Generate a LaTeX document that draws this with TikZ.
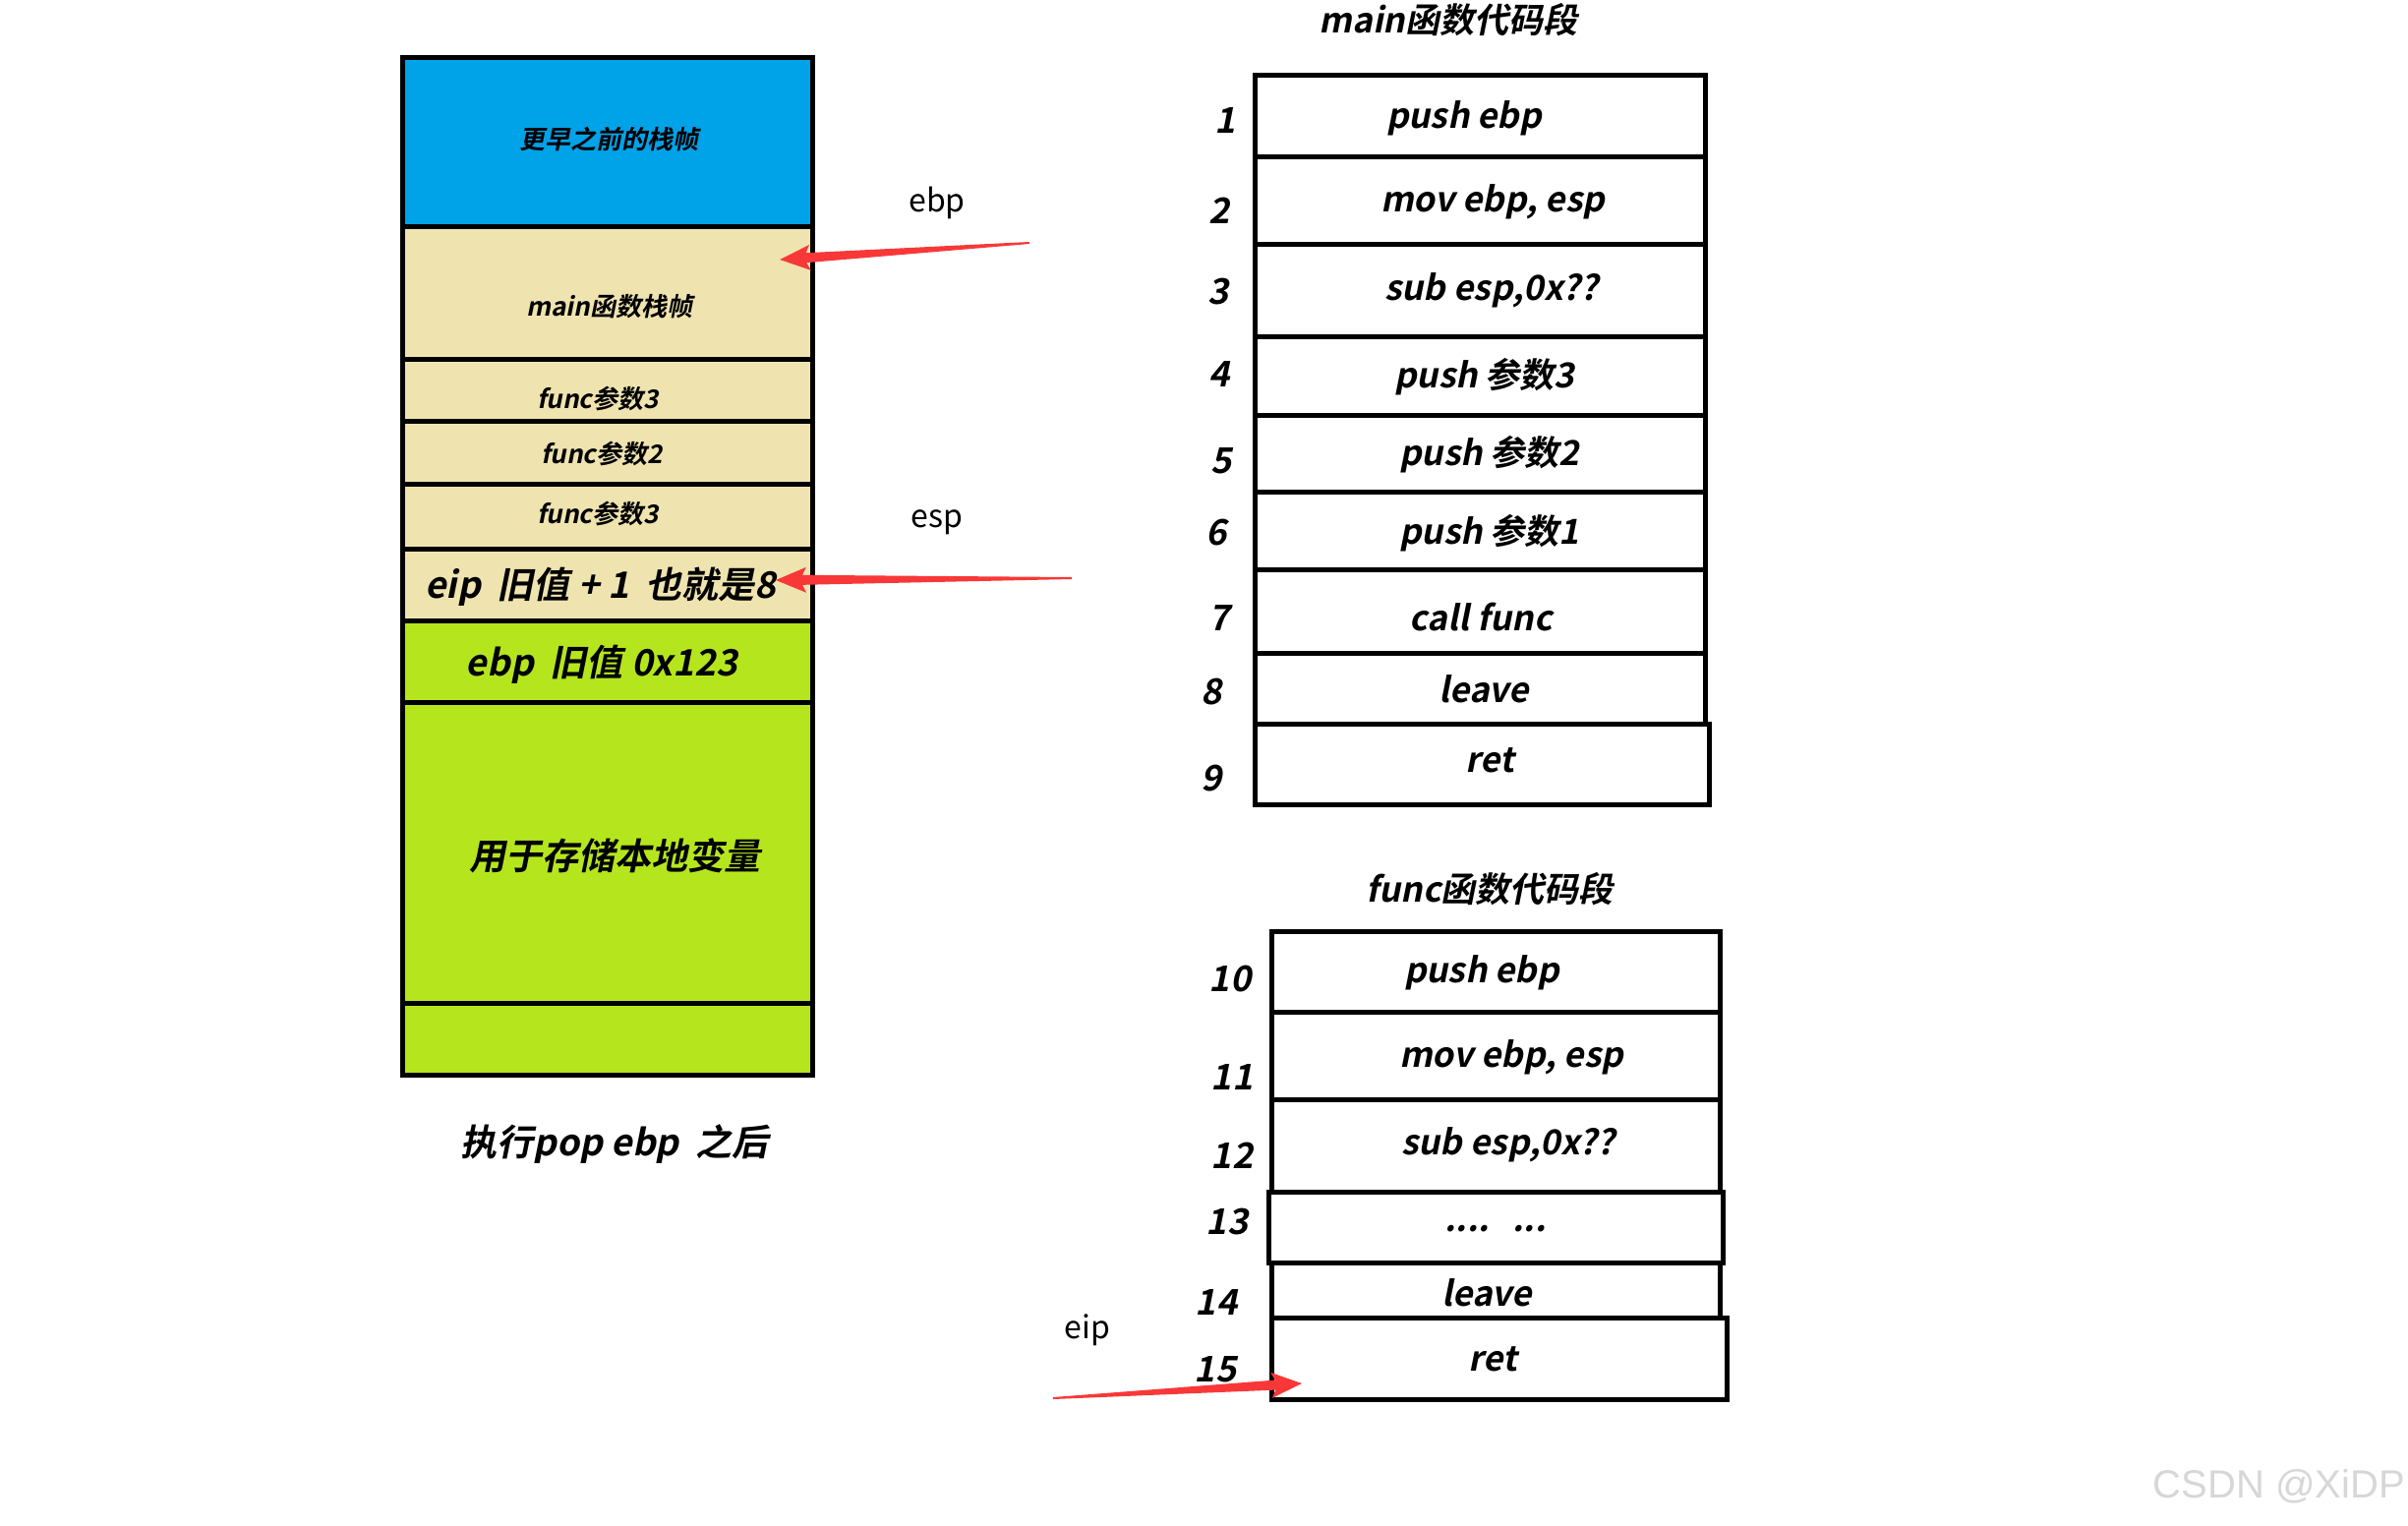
\documentclass[tikz,border=0pt]{standalone}
\usepackage{fontspec}
\usetikzlibrary{calc}
\newfontfamily\cjkbi{Noto Sans CJK SC Bold}[FakeSlant=0.2]
\newfontfamily\cjkrg{Noto Sans CJK SC}
\newfontfamily\wmfont{Liberation Sans}
\definecolor{frameblue}{RGB}{0,162,232}
\definecolor{framebeige}{RGB}{239,228,176}
\definecolor{framegreen}{RGB}{181,230,29}
\definecolor{arrowred}{RGB}{248,56,56}
\definecolor{wmgray}{RGB}{215,215,215}
\newcommand\redarrow[3]{%
  \coordinate (#3h) at ($(#2)!27pt!(#1)$);
  \coordinate (#3b) at ($(#2)!31pt!(#1)$);
  \fill[arrowred] ($(#1)!1pt!90:(#2)$) -- ($(#3h)!5pt!90:(#2)$) -- ($(#3b)!13pt!90:(#2)$) -- (#2)
     -- ($(#3b)!13pt!-90:(#2)$) -- ($(#3h)!5pt!-90:(#2)$) -- ($(#1)!1pt!-90:(#2)$) -- cycle;}
\begin{document}
\begin{tikzpicture}[x=1pt,y=-1pt,
  cell/.style={draw=black, line width=5pt, inner sep=0pt, outer sep=0pt, minimum width=417},
  codebox/.style={draw=black, line width=5pt, fill=white, inner sep=0pt, outer sep=0pt},
  smalltext/.style={font=\cjkbi\fontsize{26}{30}\selectfont, inner sep=0pt},
  bigtext/.style={font=\cjkbi\fontsize{37}{42}\selectfont, inner sep=0pt},
  codetext/.style={font=\cjkbi\fontsize{35}{40}\selectfont, inner sep=0pt},
  numtext/.style={font=\cjkbi\fontsize{36}{40}\selectfont, inner sep=0pt},
  regtext/.style={font=\cjkrg\fontsize{32}{36}\selectfont, inner sep=0pt},
]
\fill[white] (0,0) rectangle (2449,1552);
\useasboundingbox (0,0) rectangle (2449,1552);

% ---- left stack ----
\node[cell, fill=frameblue,  minimum height=171] (s1) at (617.5,144.5) {};
\node[cell, fill=framebeige, minimum height=135] (s2) at (617.5,297.5) {};
\node[cell, fill=framebeige, minimum height=63]  (s3) at (617.5,396.5) {};
\node[cell, fill=framebeige, minimum height=64]  (s4) at (617.5,460) {};
\node[cell, fill=framebeige, minimum height=66]  (s5) at (617.5,525) {};
\node[cell, fill=framebeige, minimum height=73]  (s6) at (617.5,594.5) {};
\node[cell, fill=framegreen, minimum height=83]  (s7) at (617.5,672.5) {};
\node[cell, fill=framegreen, minimum height=306] (s8) at (617.5,867) {};
\node[cell, fill=framegreen, minimum height=73]  (s9) at (617.5,1056.5) {};

\node[smalltext] (t1) at (619,141) {更早之前的栈帧};
\node[smalltext] (t2) at (620,312) {main函数栈帧};
\node[smalltext] (t3) at (608,406) {func参数3};
\node[smalltext] (t4) at (612,462) {func参数2};
\node[smalltext] (t5) at (608,523) {func参数3};
\node[bigtext] (t6) at (611,597) {eip\ \ 旧值 + 1\ \ 也就是8};
\node[bigtext] (t7) at (612,676) {ebp\ \ 旧值 0x123};
\node[bigtext] (t8) at (625,870) {用于存储本地变量};
\node[bigtext] (cap) at (625,1164) {执行pop ebp\ \ 之后};

% ---- main code segment ----
\node[codetext] (mtitle) at (1473,20) {main函数代码段};
\node[codebox, minimum width=458, minimum height=82] (m1) at (1505,118) {};
\node[codebox, minimum width=458, minimum height=89] (m2) at (1505,203.5) {};
\node[codebox, minimum width=458, minimum height=94] (m3) at (1505,295) {};
\node[codebox, minimum width=458, minimum height=80] (m4) at (1505,382) {};
\node[codebox, minimum width=458, minimum height=78] (m5) at (1505,461) {};
\node[codebox, minimum width=458, minimum height=79] (m6) at (1505,539.5) {};
\node[codebox, minimum width=458, minimum height=85] (m7) at (1505,621.5) {};
\node[codebox, minimum width=458, minimum height=72] (m8) at (1505,700) {};
\node[codebox, minimum width=462, minimum height=82] (m9) at (1507,777) {};

\node[codetext] (mt1) at (1489,120) {push ebp};
\node[codetext] (mt2) at (1518,205) {mov ebp, esp};
\node[codetext] (mt3) at (1517,295) {sub esp,0x??};
\node[codetext] (mt4) at (1510,383) {push\ 参数3};
\node[codetext] (mt5) at (1515,462) {push\ 参数2};
\node[codetext] (mt6) at (1515,542) {push\ 参数1};
\node[codetext] (mt7) at (1506,628) {call func};
\node[codetext] (mt8) at (1509,701) {leave};
\node[codetext] (mt9) at (1515,773) {ret};

\node[numtext] (n1) at (1246,123) {1};
\node[numtext] (n2) at (1240,214) {2};
\node[numtext] (n3) at (1239,297) {3};
\node[numtext] (n4) at (1240,381) {4};
\node[numtext] (n5) at (1242,469) {5};
\node[numtext] (n6) at (1237,542) {6};
\node[numtext] (n7) at (1240,629) {7};
\node[numtext] (n8) at (1232,704) {8};
\node[numtext] (n9) at (1232,792) {9};

% ---- func code segment ----
\node[codetext] (ftitle) at (1515,904) {func函数代码段};
\node[codebox, minimum width=456, minimum height=82] (f10) at (1521,988) {};
\node[codebox, minimum width=456, minimum height=89] (f11) at (1521,1073.5) {};
\node[codebox, minimum width=456, minimum height=94] (f12) at (1521,1165) {};
\node[codebox, minimum width=462, minimum height=72] (f13) at (1521,1248) {};
\node[codebox, minimum width=456, minimum height=56] (f14) at (1521,1312) {};
\node[codebox, minimum width=463, minimum height=83] (f15) at (1524.5,1381.5) {};

\node[codetext] (ft10) at (1507,989) {push ebp};
\node[codetext] (ft11) at (1537,1075) {mov ebp, esp};
\node[codetext] (ft12) at (1534,1164) {sub esp,0x??};
\node[codetext] (ft13) at (1521,1250) {....\ \ \ ...};
\node[codetext] (ft14) at (1512,1315) {leave};
\node[codetext] (ft15) at (1518,1382) {ret};

\node[numtext] (n10) at (1251,996) {10};
\node[numtext] (n11) at (1253,1096) {11};
\node[numtext] (n12) at (1253,1175) {12};
\node[numtext] (n13) at (1248,1243) {13};
\node[numtext] (n14) at (1237,1325) {14};
\node[numtext] (n15) at (1236,1393) {15};

% ---- register labels and arrows ----
\node[regtext] (lebp) at (953,206) {ebp};
\node[regtext] (lesp) at (953,531) {esp};
\node[regtext] (leip) at (1106,1353) {eip};

\coordinate (ebptail) at (1047,247);
\coordinate (ebptip) at (793,264);
\coordinate (esptail) at (1090,588);
\coordinate (esptip) at (789,590);
\coordinate (eiptail) at (1071,1422);
\coordinate (eiptip) at (1324,1407);
\redarrow{ebptail}{ebptip}{aa}
\redarrow{esptail}{esptip}{ab}
\redarrow{eiptail}{eiptip}{ac}

% ---- watermark ----
\node[font=\wmfont\fontsize{40}{44}\selectfont, text=wmgray, anchor=east, inner sep=0pt] (wm) at (2446,1512) {CSDN @XiDP};
\end{tikzpicture}
\end{document}
